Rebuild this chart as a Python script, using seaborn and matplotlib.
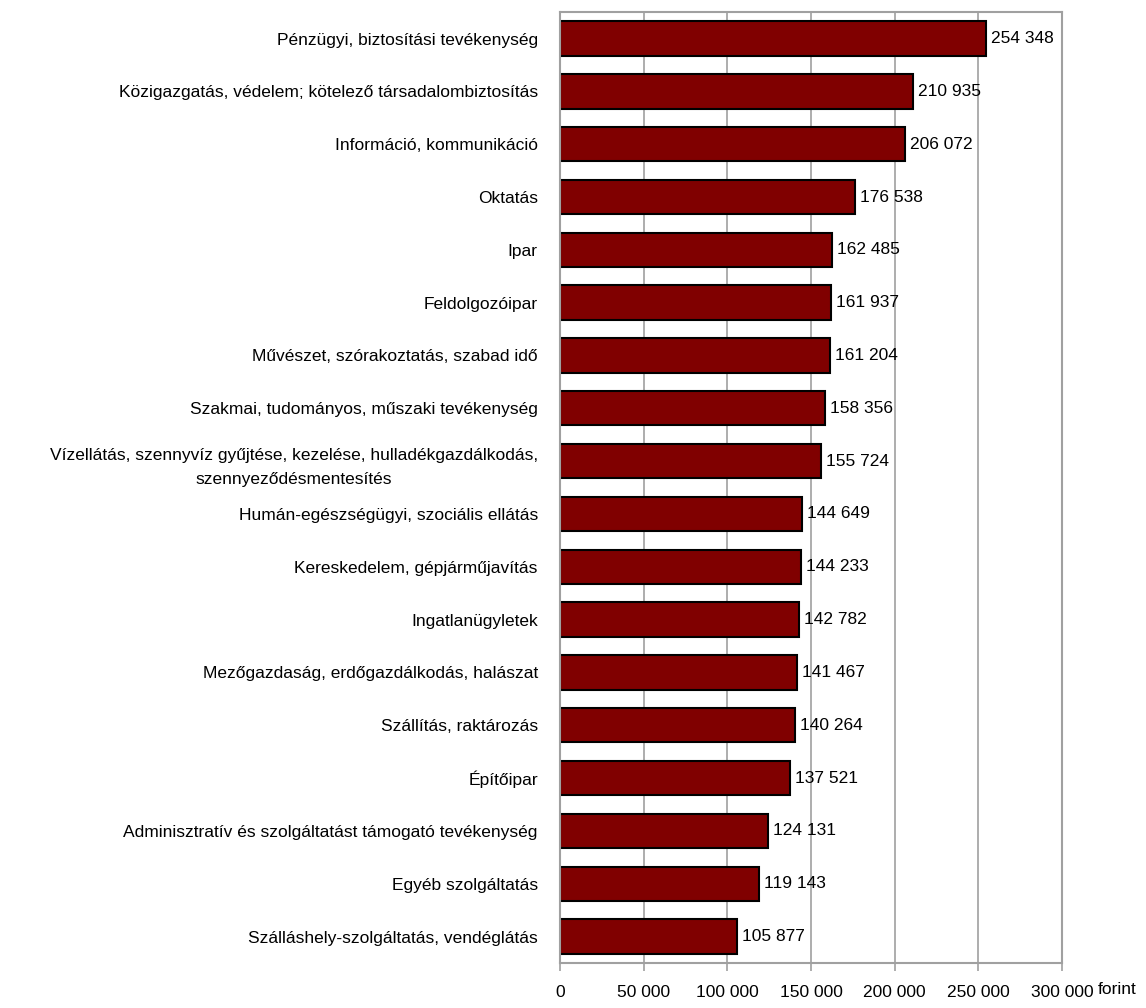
import matplotlib
matplotlib.use("Agg")
import matplotlib.pyplot as plt
import seaborn as sns
import pandas as pd

# adatok
agazatok = [
    "Pénzügyi, biztosítási tevékenység",
    "Közigazgatás, védelem; kötelező társadalombiztosítás",
    "Információ, kommunikáció",
    "Oktatás",
    "Ipar",
    "Feldolgozóipar",
    "Művészet, szórakoztatás, szabad idő",
    "Szakmai, tudományos, műszaki tevékenység",
    "Vízellátás, szennyvíz gyűjtése, kezelése, hulladékgazdálkodás,\nszennyeződésmentesítés",
    "Humán-egészségügyi, szociális ellátás",
    "Kereskedelem, gépjárműjavítás",
    "Ingatlanügyletek",
    "Mezőgazdaság, erdőgazdálkodás, halászat",
    "Szállítás, raktározás",
    "Építőipar",
    "Adminisztratív és szolgáltatást támogató tevékenység",
    "Egyéb szolgáltatás",
    "Szálláshely-szolgáltatás, vendéglátás",
]
kereset = [254348, 210935, 206072, 176538, 162485, 161937, 161204, 158356,
           155724, 144649, 144233, 142782, 141467, 140264, 137521, 124131,
           119143, 105877]
x_ticks = [0, 50000, 100000, 150000, 200000, 250000, 300000]

df = pd.DataFrame({"agazat": agazatok, "kereset": kereset})

sns.set_theme(style="white")
plt.rcParams["font.family"] = ["Liberation Sans", "DejaVu Sans"]

fig = plt.figure(figsize=(11.46, 10.08), dpi=100)
ax = fig.add_axes([0.4887, 0.0446, 0.438, 0.9434])

sns.barplot(data=df, x="kereset", y="agazat", orient="h", color="#800000",
            saturation=1, width=0.65, edgecolor="black", linewidth=1.5, ax=ax)

for i, v in enumerate(kereset):
    ax.text(v + 3000, i, f"{v:,}".replace(",", " "), va="center", ha="left",
            fontsize=12.5, color="black")

ax.set_xlim(0, 300000)
ax.set_xticks(x_ticks)
ax.set_xticklabels([f"{t:,}".replace(",", " ") for t in x_ticks], fontsize=12.5)
ax.tick_params(axis="x", length=6, width=1.2, color="#a0a0a0", pad=10,
               bottom=True, labelcolor="black")
ax.tick_params(axis="y", length=0, pad=16, labelsize=12.5, labelcolor="black")
for lbl in ax.get_yticklabels():
    lbl.set_multialignment("center")
    lbl.set_linespacing(1.8)
ax.set_xlabel("")
ax.set_ylabel("")
ax.xaxis.grid(True, color="#a0a0a0", linewidth=1.2)
ax.set_axisbelow(True)
for s in ax.spines.values():
    s.set_color("#a0a0a0")
    s.set_linewidth(1.5)

ax.text(1.072, -0.028, "forint", transform=ax.transAxes, fontsize=12.5,
        ha="left", va="center", color="black")

fig.savefig("out.png", dpi=100)
